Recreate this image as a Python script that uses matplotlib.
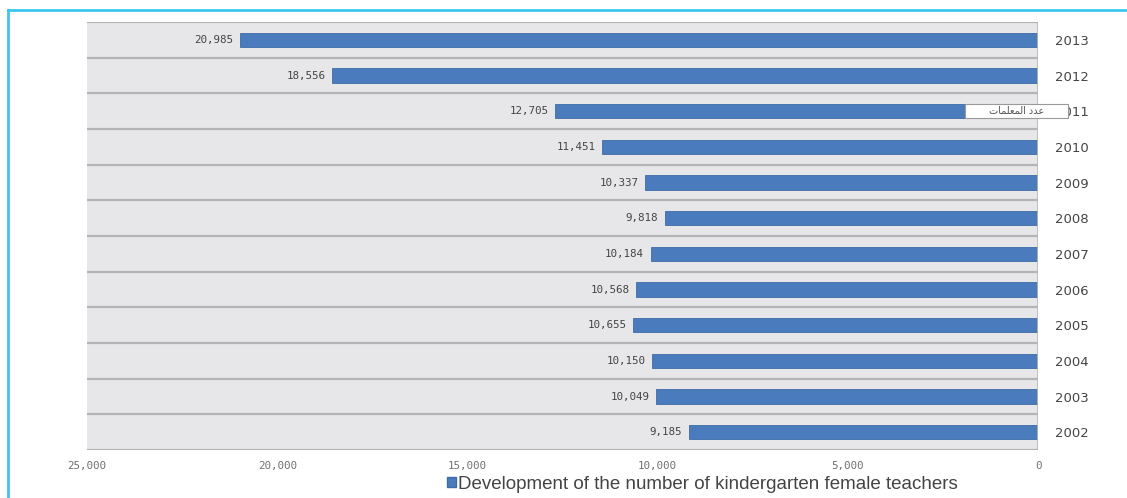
import matplotlib
matplotlib.use("Agg")
import matplotlib.pyplot as plt
from matplotlib.patches import Patch, Rectangle
from matplotlib.lines import Line2D

years = ["2013", "2012", "2011", "2010", "2009", "2008",
         "2007", "2006", "2005", "2004", "2003", "2002"]
teachers = [20985, 18556, 12705, 11451, 10337, 9818,
            10184, 10568, 10655, 10150, 10049, 9185]
x_ticks = [25000, 20000, 15000, 10000, 5000, 0]
series_name = "Development of the number of kindergarten female teachers"
# "عدد المعلمات" written in shaped presentation forms, left-to-right visual order
tooltip_text = "\uFE95\uFE8E\uFEE4\uFEE0\uFECC\uFEE4\uFEDF\uFE8D \uFEA9\uFEAA\uFECB"

W, H = 1127, 498
fig = plt.figure(figsize=(W / 100, H / 100), dpi=100)
fig.patch.set_facecolor("white")

# cyan frame on the left and top edges
fig.add_artist(Line2D([8 / W, 8 / W], [0, 1 - 10 / H], transform=fig.transFigure,
                      color="#3cc6ef", lw=2))
fig.add_artist(Line2D([8 / W, 1], [1 - 10 / H, 1 - 10 / H], transform=fig.transFigure,
                      color="#3cc6ef", lw=2))

left, right, top, bottom = 87, 1038, 22, 450
ax = fig.add_axes([left / W, 1 - bottom / H, (right - left) / W, (bottom - top) / H])
ax.set_facecolor("#e7e7e9")

bar_color = "#4a7bbd"
pos = list(range(len(years)))
ax.barh(pos, teachers, height=0.4, color=bar_color, edgecolor="#3e6ca8", lw=0.6, zorder=3)

ax.set_xlim(25000, 0)
ax.set_ylim(len(years) - 0.5, -0.5)

# row separators
for b in range(len(years) + 1):
    ax.axhline(b - 0.5, color="#b4b4b4", lw=1.6, zorder=2)
ax.axvline(0, color="#b8b8b8", lw=1.2, zorder=4)

for p, v in zip(pos, teachers):
    ax.text(v + 170, p, f"{v:,}", ha="right", va="center", fontsize=7.8,
            family="DejaVu Sans Mono", color="#444444", zorder=5)

ax.set_xticks(x_ticks)
ax.set_xticklabels([f"{t:,}" for t in x_ticks], fontsize=7.8,
                   family="DejaVu Sans Mono", color="#707070")
ax.set_yticks(pos)
ax.set_yticklabels(years, fontsize=9.5, color="#444444")
ax.yaxis.tick_right()
ax.tick_params(axis="both", length=0)
ax.tick_params(axis="x", pad=8)
ax.tick_params(axis="y", pad=12)
for s in ax.spines.values():
    s.set_visible(False)

# hover label on the 2011 bar
tip_row = years.index("2011")
tip_x0, tip_x1 = 1920, -800
ax.add_patch(Rectangle((tip_x1, tip_row - 0.2), tip_x0 - tip_x1, 0.4, fc="white",
                       ec="#9a9a9a", lw=0.8, clip_on=False, zorder=9))
ax.text((tip_x0 + tip_x1) / 2, tip_row, tooltip_text, ha="center", va="center",
        fontsize=7, family="DejaVu Sans", color="#555555", clip_on=False, zorder=10)

handle = Patch(facecolor=bar_color, edgecolor="#3e6ca8")
fig.legend([handle], [series_name], loc="center", bbox_to_anchor=(702 / W, 14 / H),
           frameon=False, handlelength=0.5, handleheight=0.5, handletextpad=0.1,
           prop={"family": "Liberation Sans", "size": 13.5}, labelcolor="#444444")

fig.savefig("out.png", dpi=100, facecolor="white")
